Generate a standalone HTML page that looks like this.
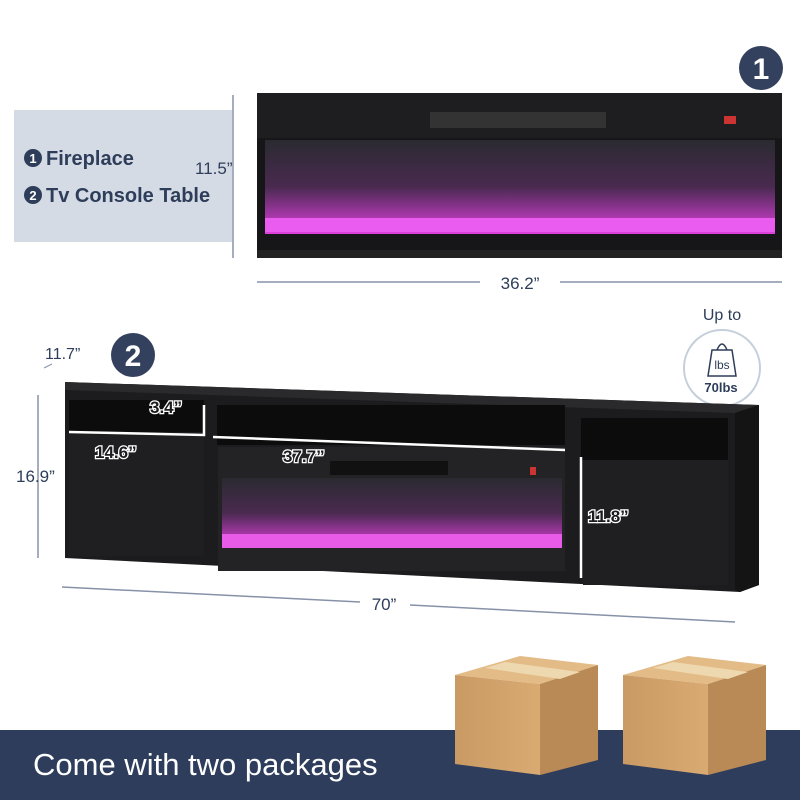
<!DOCTYPE html>
<html><head><meta charset="utf-8"><style>
html,body{margin:0;padding:0;background:#fff;}
svg{display:block;}
text{font-family:"Liberation Sans",sans-serif;}
</style></head><body>
<svg width="800" height="800" viewBox="0 0 800 800" xmlns="http://www.w3.org/2000/svg">
<defs>
<linearGradient id="fl" x1="0" y1="0" x2="0" y2="1">
<stop offset="0" stop-color="#2a2a30"/><stop offset="0.5" stop-color="#4a2a50"/><stop offset="1" stop-color="#e040e0"/>
</linearGradient>
<linearGradient id="box" x1="0" y1="0" x2="1" y2="0">
<stop offset="0" stop-color="#c99a63"/><stop offset="1" stop-color="#d9ab73"/>
</linearGradient>
</defs>
<rect width="800" height="800" fill="#fff"/>
<!-- legend box -->
<rect x="14" y="110" width="218" height="132" fill="#d5dbe4"/>
<circle cx="33" cy="158" r="9" fill="#2e3d5a"/><text x="33" y="163" font-size="13" font-weight="bold" fill="#fff" text-anchor="middle">1</text>
<text x="46" y="165" font-size="20" font-weight="bold" fill="#2e3d5a">Fireplace</text>
<circle cx="33" cy="195" r="9" fill="#2e3d5a"/><text x="33" y="200" font-size="13" font-weight="bold" fill="#fff" text-anchor="middle">2</text>
<text x="46" y="202" font-size="20" font-weight="bold" fill="#2e3d5a">Tv Console Table</text>
<line x1="233" y1="95" x2="233" y2="258" stroke="#8792a8" stroke-width="1.5"/>
<text x="195" y="174" font-size="17" fill="#2e3d5a">11.5”</text>
<!-- circle 1 -->
<circle cx="761" cy="68" r="22" fill="#34415e"/><text x="761" y="79" font-size="30" font-weight="bold" fill="#fff" text-anchor="middle">1</text>
<!-- fireplace -->
<rect x="257" y="93" width="525" height="165" fill="#161618"/>
<rect x="257" y="93" width="525" height="45" fill="#1e1e21"/>
<rect x="430" y="112" width="176" height="16" fill="#333"/>
<rect x="724" y="116" width="12" height="8" fill="#c33"/>
<rect x="265" y="140" width="510" height="94" fill="url(#fl)"/>
<rect x="265" y="218" width="510" height="14" fill="#ea5cf0"/>
<rect x="257" y="250" width="525" height="8" fill="#222"/>
<line x1="257" y1="282" x2="480" y2="282" stroke="#8792a8" stroke-width="1.5"/>
<line x1="560" y1="282" x2="782" y2="282" stroke="#8792a8" stroke-width="1.5"/>
<text x="520" y="289" font-size="17" fill="#2e3d5a" text-anchor="middle">36.2”</text>
<!-- console labels -->
<text x="45" y="359" font-size="16" fill="#2e3d5a">11.7”</text>
<line x1="44" y1="368" x2="52" y2="364" stroke="#8792a8"/>
<circle cx="133" cy="355" r="22" fill="#34415e"/><text x="133" y="366" font-size="30" font-weight="bold" fill="#fff" text-anchor="middle">2</text>
<text x="722" y="320" font-size="16" fill="#2e3d5a" text-anchor="middle">Up to</text>
<circle cx="722" cy="368" r="38" fill="#fff" stroke="#c5cfdc" stroke-width="2"/>
<path d="M708 376 L712 350 L732 350 L736 376 Z" fill="#fff" stroke="#2e3d5a" stroke-width="1.5"/>
<path d="M717 350 Q722 338 727 350" fill="none" stroke="#2e3d5a" stroke-width="1.5"/>
<text x="722" y="369" font-size="12" fill="#2e3d5a" text-anchor="middle">lbs</text>
<text x="721" y="392" font-size="13" font-weight="bold" fill="#2e3d5a" text-anchor="middle">70lbs</text>
<line x1="38" y1="395" x2="38" y2="558" stroke="#8792a8" stroke-width="1.5"/>
<text x="16" y="482" font-size="17" fill="#2e3d5a">16.9”</text>
<!-- console -->
<polygon points="65,382 759,405 759,585 740,592 65,558" fill="#1c1c1e"/>
<polygon points="65,382 759,405 735,413 65,390" fill="#2a2a2c"/>
<polygon points="735,413 759,405 759,585 740,592 735,590" fill="#141415"/>
<rect x="69" y="400" width="135" height="32" fill="#0c0c0d"/>
<rect x="69" y="434" width="135" height="122" fill="#1f1f21"/>
<rect x="217" y="405" width="348" height="40" fill="#0c0c0d"/>
<rect x="218" y="447" width="347" height="124" fill="#232325"/>
<rect x="330" y="461" width="118" height="14" fill="#111"/>
<rect x="530" y="467" width="6" height="8" fill="#c33"/>
<rect x="222" y="478" width="340" height="70" fill="url(#fl)"/>
<rect x="222" y="534" width="340" height="14" fill="#e85ae8"/>
<rect x="581" y="418" width="147" height="42" fill="#0c0c0d"/>
<rect x="583" y="460" width="145" height="125" fill="#1f1f21"/>
<!-- white dim lines -->
<g stroke="#fff" stroke-width="2.5" fill="none">
<polyline points="69,432 204,435 204,405"/>
<line x1="213" y1="437" x2="565" y2="450"/>
<line x1="581" y1="457" x2="581" y2="578"/>
</g>
<g font-size="17" font-weight="bold" fill="#1c1c1e" stroke="#fff" stroke-width="2.5" paint-order="stroke">
<text x="150" y="413">3.4”</text>
<text x="95" y="458">14.6”</text>
<text x="283" y="462">37.7”</text>
<text x="588" y="522">11.8”</text>
</g>
<line x1="62" y1="587" x2="360" y2="602" stroke="#8792a8" stroke-width="1.5"/>
<line x1="410" y1="605" x2="735" y2="622" stroke="#8792a8" stroke-width="1.5"/>
<text x="384" y="610" font-size="17" fill="#2e3d5a" text-anchor="middle">70”</text>
<!-- banner -->
<rect x="0" y="730" width="800" height="70" fill="#2e3d5c"/>
<text x="33" y="775" font-size="31" fill="#fff">Come with two packages</text>
<!-- boxes -->
<g>
<polygon points="455,675 520,656 598,665 540,684" fill="#e3bb86"/>
<polygon points="455,675 540,684 540,775 455,764" fill="url(#box)"/>
<polygon points="540,684 598,665 598,760 540,775" fill="#b98a55"/>
<polygon points="485,668 505,662 580,672 560,679" fill="#eed8b0"/>
<polygon points="623,675 688,656 766,665 708,684" fill="#e3bb86"/>
<polygon points="623,675 708,684 708,775 623,764" fill="url(#box)"/>
<polygon points="708,684 766,665 766,760 708,775" fill="#b98a55"/>
<polygon points="653,668 673,662 748,672 728,679" fill="#eed8b0"/>
</g>
</svg>
</body></html>
